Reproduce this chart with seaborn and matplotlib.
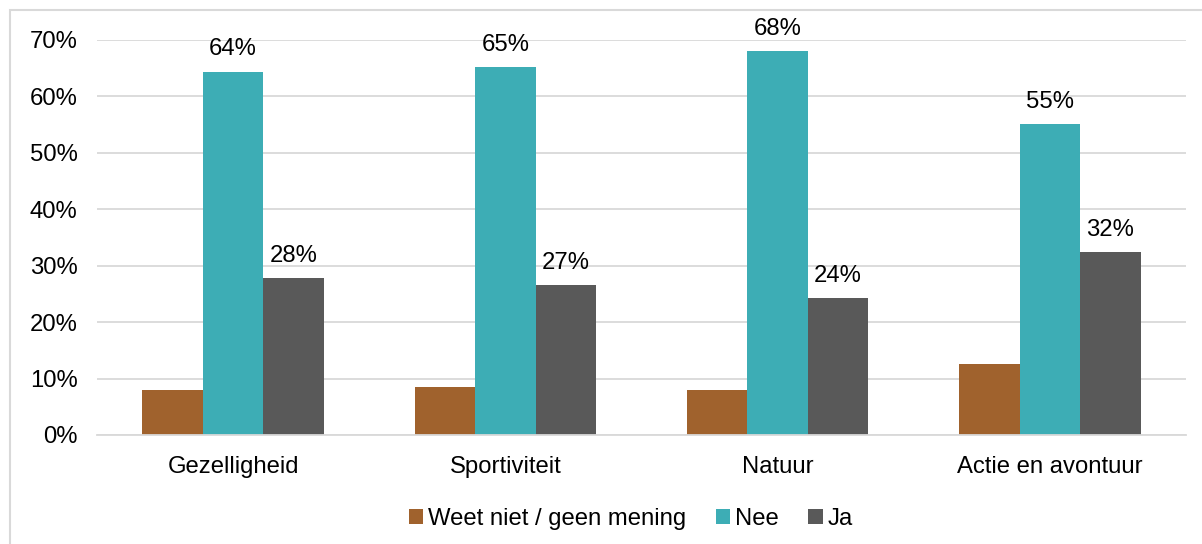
import numpy as np
import pandas as pd
import matplotlib
matplotlib.use('Agg')
import matplotlib.pyplot as plt
from matplotlib.patches import Rectangle
import seaborn as sns

# Data ======================================================================================
categories = ['Gezelligheid', 'Sportiviteit', 'Natuur', 'Actie en avontuur']
series     = ['Weet niet / geen mening', 'Nee', 'Ja']
weet_niet  = [0.080, 0.085, 0.080, 0.126]
nee        = [0.644, 0.652, 0.681, 0.551]
ja         = [0.278, 0.266, 0.243, 0.324]
colors     = ['#A0622D', '#3DADB5', '#595959']

df = pd.DataFrame({
    'categorie': categories * 3,
    'antwoord': [s for s in series for _ in categories],
    'waarde': weet_niet + nee + ja,
})

# Figuur ====================================================================================
sns.set_style('white')
plt.rcParams['font.family'] = ['Liberation Sans', 'DejaVu Sans']
plt.rcParams['text.color'] = 'black'

fs = 17.2
fig = plt.figure(figsize=(12.02, 5.44), dpi=100)
ax = fig.add_axes([0.0807, 0.2004, 0.906, 0.7261])

sns.barplot(data=df, x='categorie', y='waarde', hue='antwoord',
            order=categories, hue_order=series, palette=colors,
            width=0.667, linewidth=0, saturation=1, ax=ax)

ax.set_ylim(0, 0.70)
ax.set_xlim(-0.5, len(categories) - 0.5)
ax.set_yticks(np.arange(0, 0.71, 0.1))
ax.set_yticklabels([f'{int(round(t*100))}%' for t in np.arange(0, 0.71, 0.1)])
ax.yaxis.grid(True, color='#D9D9D9', linewidth=1.3)
ax.set_axisbelow(True)
for s in ['top', 'right', 'left']:
    ax.spines[s].set_visible(False)
ax.spines['bottom'].set_color('#D9D9D9')
ax.spines['bottom'].set_linewidth(1.3)
ax.tick_params(axis='both', length=0, labelsize=fs, colors='black')
ax.tick_params(axis='x', pad=15)
ax.tick_params(axis='y', pad=14)
ax.set_xlabel('')
ax.set_ylabel('')

# Labels alleen voor Nee en Ja
for cont in ax.containers[1:]:
    ax.bar_label(cont, labels=[f'{v*100:.0f}%' for v in cont.datavalues],
                 padding=8, fontsize=fs, color='black')

leg = ax.legend(loc='upper center', bbox_to_anchor=(0.49, -0.13), ncol=3,
                frameon=False, fontsize=fs, handlelength=0.6, handleheight=0.6,
                handletextpad=0.2, columnspacing=1.25)
for t in leg.get_texts():
    t.set_color('black')

# Kader rond de figuur
fig.patches.append(Rectangle((10/1202, -0.1), 1.1, 1 - 10/544 + 0.1,
                             transform=fig.transFigure, fill=False,
                             edgecolor='#D9D9D9', linewidth=1.5))

plt.savefig('out.png', dpi=100)
